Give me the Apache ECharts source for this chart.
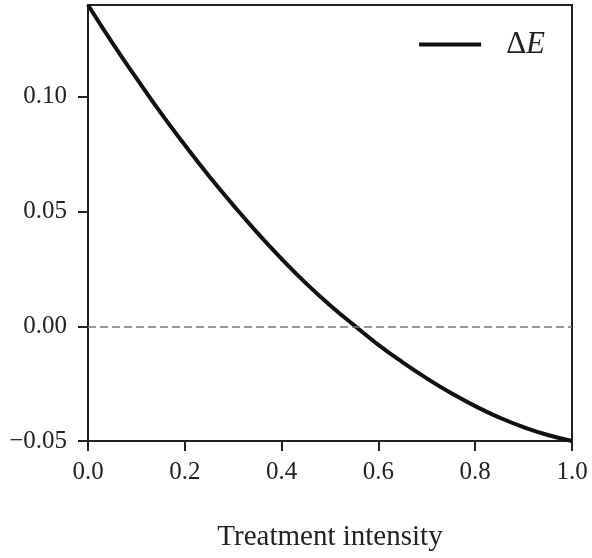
<!DOCTYPE html>
<html lang="en">
<head>
<meta charset="UTF-8">
<style>
  html, body { height: 100%; margin: 0; background: #fff; }
</style>
</head>
<body>
<div id="chart" style="width:592px;height:558px;"></div>
<script src="https://cdn.jsdelivr.net/npm/echarts@6/dist/echarts.min.js"></script>
<script>
// treatment intensity (x) and Delta E (y)
var intensity = [0.00, 0.05, 0.10, 0.15, 0.20, 0.25, 0.30, 0.35, 0.40, 0.45, 0.50,
                 0.55, 0.60, 0.65, 0.70, 0.75, 0.80, 0.85, 0.90, 0.95, 1.00];
var deltaE = [0.1400, 0.1236, 0.1081, 0.0931, 0.0790, 0.0655, 0.0528, 0.0407, 0.0294, 0.0188, 0.0092,
              0.0004, -0.0081, -0.0157, -0.0227, -0.0291, -0.0348, -0.0398, -0.0440, -0.0474, -0.0500];
var yTicks = [-0.05, 0.00, 0.05, 0.10];

var font = '"Liberation Serif", "DejaVu Serif", serif';
var ink = '#222';

var points = intensity.map(function (x, i) { return [x, deltaE[i]]; });

var chart = echarts.init(document.getElementById('chart'));
chart.setOption({
    animation: false,
    grid: {
        left: 88, right: 20, top: 5, bottom: 117,
        show: true, borderColor: ink, borderWidth: 2
    },
    legend: {
        right: 42, top: 24,
        icon: 'rect',
        itemWidth: 62, itemHeight: 4,
        data: ['dE'],
        formatter: function () { return '{d|\u0394}{e|E}'; },
        textStyle: {
            padding: [0, 0, 0, 20],
            rich: {
                d: { fontFamily: font, fontSize: 31, color: ink },
                e: { fontFamily: font, fontSize: 31, fontStyle: 'italic', color: ink }
            }
        }
    },
    xAxis: {
        type: 'value', min: 0, max: 1, interval: 0.2,
        name: 'Treatment intensity', nameLocation: 'middle', nameGap: 82,
        nameTextStyle: { fontFamily: font, fontSize: 29, color: ink },
        splitLine: { show: false },
        axisLine: { onZero: false, lineStyle: { color: ink, width: 2 } },
        axisTick: { length: 10, lineStyle: { color: ink, width: 2 } },
        axisLabel: {
            margin: 19, fontFamily: font, fontSize: 25, color: ink,
            formatter: function (v) { return v.toFixed(1); }
        }
    },
    yAxis: {
        type: 'value', min: -0.05, max: 0.14,
        splitLine: { show: false },
        axisLine: { onZero: false, lineStyle: { color: ink, width: 2 } },
        axisTick: { length: 10, customValues: yTicks, lineStyle: { color: ink, width: 2 } },
        axisLabel: {
            margin: 21, fontFamily: font, fontSize: 25, color: ink,
            customValues: yTicks,
            formatter: function (v) {
                var s = Math.abs(v).toFixed(2);
                return v < -1e-9 ? '\u2212' + s : s;
            }
        }
    },
    series: [{
        name: 'dE',
        type: 'line',
        data: points,
        smooth: true,
        showSymbol: false,
        lineStyle: { color: '#111', width: 4 },
        itemStyle: { color: '#111' },
        markLine: {
            silent: true,
            symbol: 'none',
            label: { show: false },
            lineStyle: { color: '#777', width: 1.6, type: [8, 4] },
            data: [{ yAxis: 0 }]
        }
    }]
});
</script>
</body>
</html>
